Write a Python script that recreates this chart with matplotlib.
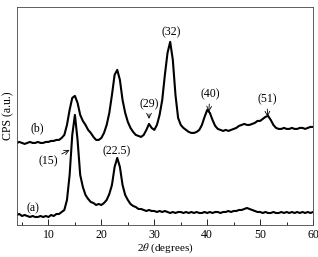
import numpy as np
import matplotlib.pyplot as plt
from matplotlib.ticker import MultipleLocator

plt.rcParams['font.family'] = 'Liberation Serif'
plt.rcParams['mathtext.fontset'] = 'stix'

two_theta = np.arange(4, 60.01, 0.5)

# curve (a)
cps_a = [10, 11,
         9, 10, 9, 8, 9, 8, 8, 9, 8, 9,
         8, 10, 9, 11, 11, 13, 15, 25, 50, 90,
         110, 85, 50, 38, 30, 26, 23, 22, 20, 21,
         20, 22, 25, 31, 40, 58, 67, 58, 40, 30,
         25, 21, 19, 18, 16, 16, 15, 14, 15, 14,
         14, 13, 14, 13, 14, 13, 12, 13, 12, 13,
         13, 12, 13, 12, 13, 12, 13, 12, 12, 13,
         12, 13, 12, 13, 13, 12, 13, 13, 14, 13,
         14, 14, 15, 15, 16, 17, 16, 15, 14, 13,
         13, 12, 13, 12, 12, 13, 12, 12, 13, 12,
         13, 12, 13, 12, 13, 12, 13, 12, 13, 12,
         13]

# curve (b)
cps_b = [82, 83,
         82, 81, 82, 83, 82, 82, 83, 82, 82, 83,
         83, 84, 84, 85, 85, 87, 90, 100, 115, 127,
         129, 122, 110, 104, 100, 95, 92, 88, 85, 85,
         87, 92, 100, 112, 130, 150, 155, 145, 125, 112,
         103, 97, 93, 90, 89, 88, 90, 95, 101, 97,
         95, 100, 110, 125, 150, 172, 183, 165, 130, 107,
         100, 97, 95, 93, 92, 92, 93, 95, 100, 108,
         115, 112, 105, 99, 96, 95, 94, 95, 94, 95,
         96, 97, 99, 100, 101, 100, 100, 101, 102, 104,
         104, 106, 108, 109, 105, 100, 97, 96, 96, 97,
         96, 96, 97, 96, 96, 97, 97, 96, 97, 98,
         98]

fig = plt.figure(figsize=(3.18, 2.57), dpi=100)
ax = fig.add_axes([0.0525, 0.1245, 0.932, 0.849])

ax.plot(two_theta, cps_a, color='black', lw=1.5)
ax.plot(two_theta, cps_b, color='black', lw=1.5)

ax.set_xlim(4, 60)
ax.set_ylim(0, 218)
ax.set_yticks([])
ax.xaxis.set_major_locator(MultipleLocator(10))
ax.xaxis.set_minor_locator(MultipleLocator(5))
ax.tick_params(axis='x', which='major', direction='in', length=4, width=0.6, labelsize=8.5, pad=3)
ax.tick_params(axis='x', which='minor', direction='in', length=2.5, width=0.6)
for s in ax.spines.values():
    s.set_linewidth(0.6)
    s.set_color('#444444')

ax.set_xlabel(r'2$\theta$ (degrees)', fontsize=8, labelpad=0.5)
ax.set_ylabel('CPS (a.u.)', fontsize=8.5, labelpad=2)

fs = 8.5
ax.text(7.8, 97, '(b)', fontsize=fs, ha='center', va='center')
ax.text(7.1, 17, '(a)', fontsize=fs, ha='center', va='center')
ax.text(22.9, 74, '(22.5)', fontsize=fs, ha='center', va='center')
ax.text(33.1, 193, '(32)', fontsize=fs, ha='center', va='center')

arrow = dict(arrowstyle='->', lw=0.6, color='black', shrinkA=1, shrinkB=0)
ax.annotate('(15)', xy=(14.0, 75), xytext=(9.9, 64), fontsize=fs,
            ha='center', va='center', arrowprops=arrow)
ax.annotate('(29)', xy=(29.0, 106), xytext=(29.0, 121), fontsize=fs,
            ha='center', va='center', arrowprops=arrow)
ax.annotate('(40)', xy=(40.3, 113), xytext=(40.5, 131), fontsize=fs,
            ha='center', va='center', arrowprops=arrow)
ax.annotate('(51)', xy=(51.4, 108), xytext=(51.3, 126), fontsize=fs,
            ha='center', va='center', arrowprops=arrow)

fig.savefig('out.png', dpi=100)
